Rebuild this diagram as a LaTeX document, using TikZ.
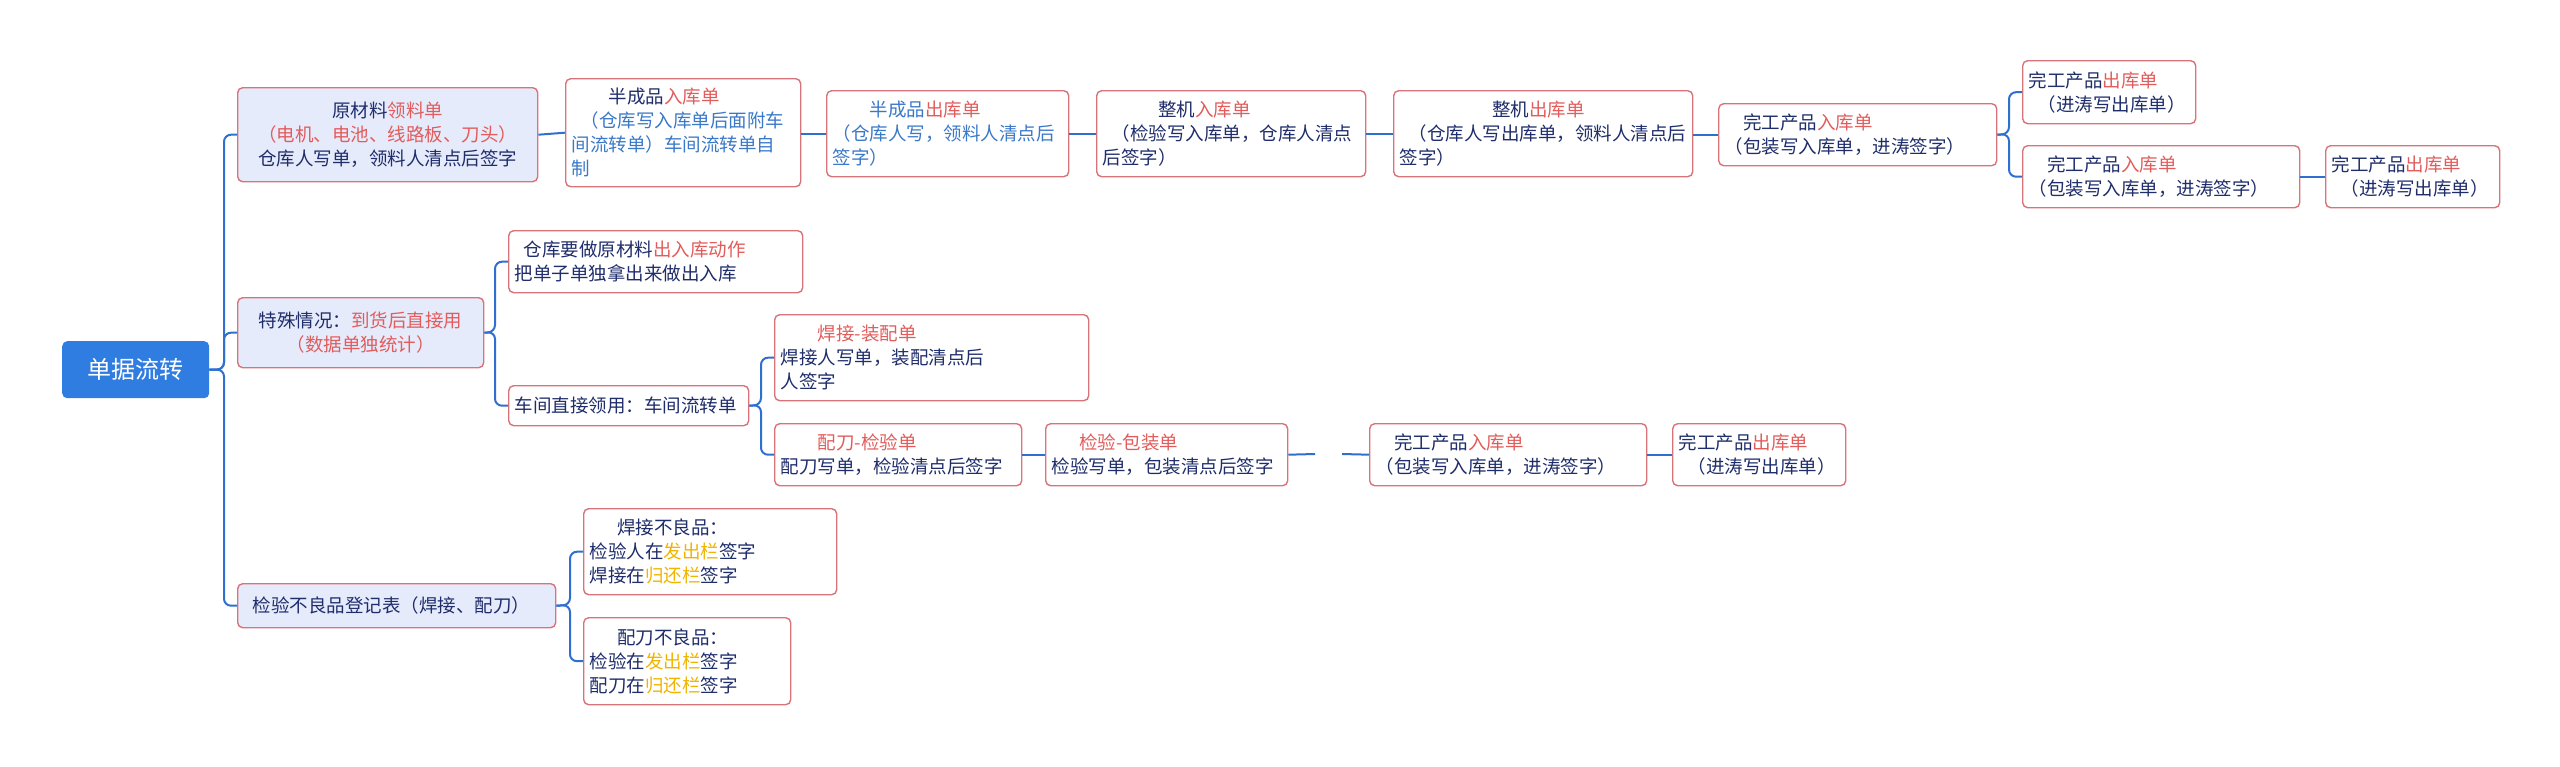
\documentclass[tikz,border=0pt]{standalone}
\usepackage{fontspec}
\setmainfont{Noto Sans CJK SC}
\definecolor{navy}{HTML}{1F2D6B}
\definecolor{rd}{HTML}{E25C5C}
\definecolor{bl}{HTML}{3A78C8}
\definecolor{gd}{HTML}{F0B400}
\definecolor{bordr}{HTML}{D9737A}
\definecolor{ln}{HTML}{2F6FD0}
\definecolor{lfill}{HTML}{E5EBFB}
\definecolor{rootc}{HTML}{2F7DE1}
\newcommand{\R}[1]{\textcolor{rd}{#1}}
\newcommand{\B}[1]{\textcolor{bl}{#1}}
\newcommand{\G}[1]{\textcolor{gd}{#1}}
\tikzset{
 box/.style={draw=bordr, rounded corners=5pt, line width=1.4pt, fill=white, text=navy,
   font=\fontsize{18.5}{24}\selectfont, align=left, inner sep=6pt, anchor=north west},
 lf/.style={box, fill=lfill},
 conn/.style={draw=ln, line width=2pt, rounded corners=7pt}
}
\newcommand{\bx}[7]{\node[#1, text width=#5pt-12pt, minimum width=#5pt, minimum height=#6pt] (#2) at (#3,#4) {#7};}
\begin{document}
\begin{tikzpicture}[x=1pt,y=-1pt]
\useasboundingbox (0,0) rectangle (2560,766);
\node[fill=rootc, rounded corners=5pt, text=white, font=\fontsize{24}{28}\selectfont, minimum width=147pt, minimum height=57pt, anchor=north west, inner sep=0pt] (root) at (62,341) {单据流转};
\bx{lf,align=center}{a}{237}{87}{300}{94}{原材料\R{领料单}\\\R{（电机、电池、线路板、刀头）}\\仓库人写单，领料人清点后签字}
\bx{lf,align=center}{b}{237}{297}{246}{70}{特殊情况：\R{到货后直接用}\\\R{（数据单独统计）}\hspace{2em}}
\bx{lf}{c}{237}{583}{318}{44}{\hspace{0.5em}检验不良品登记表（焊接、配刀）}
% top chain
\bx{box}{a1}{565}{78}{235}{108}{\hspace{2em}半成品\R{入库单}\\\B{\hspace{0.5em}（仓库写入库单后面附车}\\\B{间流转单）车间流转单自}\\\B{制}}
\bx{box}{a2}{826}{90}{242}{86}{\hspace{2em}\B{半成品}\R{出库单}\\\B{（仓库人写，领料人清点后}\\\B{签字）}}
\bx{box}{a3}{1096}{90}{269}{86}{\hspace{3em}整机\R{入库单}\\\hspace{0.5em}（检验写入库单，仓库人清点\\后签字）}
\bx{box}{a4}{1393}{90}{299}{86}{\hspace{5em}整机\R{出库单}\\\hspace{0.5em}（仓库人写出库单，领料人清点后\\签字）}
\bx{box}{a5}{1718}{103}{278}{62}{\hspace{1em}完工产品\R{入库单}\\（包装写入库单，进涛签字）}
\bx{box}{a6}{2022}{60}{173}{63}{完工产品\R{出库单}\\\hspace{0.5em}（进涛写出库单）}
\bx{box}{a7}{2022}{145}{277}{62}{\hspace{1em}完工产品\R{入库单}\\（包装写入库单，进涛签字）}
\bx{box}{a8}{2325}{145}{174}{62}{完工产品\R{出库单}\\\hspace{0.5em}（进涛写出库单）}
% special
\bx{box}{b1}{508}{230}{294}{62}{\hspace{0.5em}仓库要做原材料\R{出入库动作}\\把单子单独拿出来做出入库}
\bx{box}{b2}{508}{385}{240}{40}{车间直接领用：车间流转单}
\bx{box}{b3}{774}{314}{314}{86}{\hspace{2em}\R{焊接-装配单}\\焊接人写单，装配清点后\\人签字}
\bx{box}{b4}{774}{423}{247}{62}{\hspace{2em}\R{配刀-检验单}\\配刀写单，检验清点后签字}
\bx{box}{b5}{1045}{423}{242}{62}{\hspace{1.5em}\R{检验-包装单}\\检验写单，包装清点后签字}
\bx{box}{b6}{1369}{423}{277}{62}{\hspace{1em}完工产品\R{入库单}\\（包装写入库单，进涛签字）}
\bx{box}{b7}{1672}{423}{173}{62}{完工产品\R{出库单}\\\hspace{0.5em}（进涛写出库单）}
% defects
\bx{box}{c1}{583}{508}{253}{86}{\hspace{1.5em}焊接不良品：\\检验人在\G{发出栏}签字\\焊接在\G{归还栏}签字}
\bx{box}{c2}{583}{617}{207}{87}{\hspace{1.5em}配刀不良品：\\检验在\G{发出栏}签字\\配刀在\G{归还栏}签字}
% connectors
\foreach \ch in {a,b,c}{\draw[conn] (root.east) -- (224,369.5) |- (\ch.west);}
\draw[conn] (a.east) -- (a1.west);
\draw[conn] (a1.east|-a2.west) -- (a2.west);
\draw[conn] (a2.east) -- (a3.west);
\draw[conn] (a3.east) -- (a4.west);
\draw[conn] (a4.east|-a5.west) -- (a5.west);
\foreach \ch in {a6,a7}{\draw[conn] (a5.east) -- (2009,134) |- (\ch.west);}
\draw[conn] (a7.east) -- (a8.west);
\foreach \ch in {b1,b2}{\draw[conn] (b.east) -- (495,332) |- (\ch.west);}
\foreach \ch in {b3,b4}{\draw[conn] (b2.east) -- (761,405) |- (\ch.west);}
\draw[conn] (b4.east) -- (b5.west);
\coordinate (g1) at (1315,454);
\coordinate (g2) at (1342,454);
\draw[conn] (b5.east) -- (g1);
\draw[conn] (g2) -- (b6.west);
\draw[conn] (b6.east) -- (b7.west);
\foreach \ch in {c1,c2}{\draw[conn] (c.east) -- (570,605) |- (\ch.west);}
\end{tikzpicture}
\end{document}
